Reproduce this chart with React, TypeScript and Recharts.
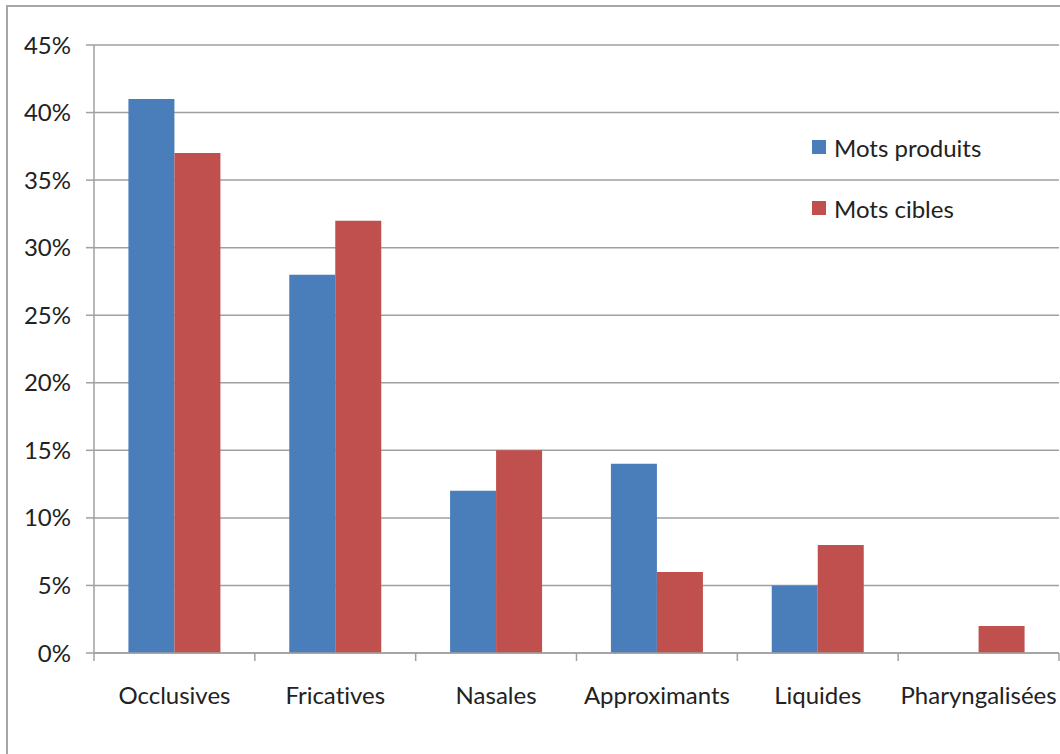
import { BarChart, Bar, XAxis, YAxis, CartesianGrid } from 'recharts';

const categories = ['Occlusives', 'Fricatives', 'Nasales', 'Approximants', 'Liquides', 'Pharyngalisées'];
const motsProduits = [41, 28, 12, 14, 5, 0];
const motsCibles = [37, 32, 15, 6, 8, 2];
const yTicks = [0, 5, 10, 15, 20, 25, 30, 35, 40, 45];

const series = [
  { key: 'produits', label: 'Mots produits', color: '#4a7ebb' },
  { key: 'cibles', label: 'Mots cibles', color: '#c0504d' },
];

const data = categories.map((name, i) => ({
  name,
  produits: motsProduits[i],
  cibles: motsCibles[i],
}));

const FONT = 'Lato, sans-serif';
const GRID = '#a0a0a0';

// x ticks: Excel draws them at category boundaries, label centred
function CategoryTick(props: any) {
  const { x, y, payload, index, width } = props;
  const bw = width / categories.length;
  const left = x - bw / 2;
  return (
    <g>
      <line x1={left} y1={y} x2={left} y2={y + 8} stroke={GRID} strokeWidth={1.5} />
      {index === categories.length - 1 && (
        <line x1={x + bw / 2} y1={y} x2={x + bw / 2} y2={y + 8} stroke={GRID} strokeWidth={1.5} />
      )}
      <text
        x={x}
        y={y + 41}
        textAnchor="middle"
        dominantBaseline="central"
        fill="#222"
        fontSize={24}
        fontFamily={FONT}
        style={{ fontVariantLigatures: 'none' }}
      >
        {payload.value}
      </text>
    </g>
  );
}

export default function App() {
  return (
    <div style={{ position: 'absolute', left: 0, top: 0, width: 1060, height: 754, overflow: 'hidden', background: '#fff' }}>
      <div
        style={{
          position: 'absolute',
          left: 6,
          top: 5,
          width: 1200,
          height: 900,
          borderLeft: '2px solid #a6a6a6',
          borderTop: '2px solid #a6a6a6',
        }}
      />
      <div style={{ position: 'absolute', left: 0, top: 0 }}>
        <BarChart
          width={1060}
          height={754}
          data={data}
          margin={{ top: 45, right: 1, left: 0, bottom: 0 }}
          barCategoryGap="21.4%"
          barGap={0}
        >
          <CartesianGrid vertical={false} stroke={GRID} strokeWidth={1.5} />
          <YAxis
            width={94}
            domain={[0, 45]}
            ticks={yTicks}
            interval={0}
            tickFormatter={(v: number) => `${v}%`}
            tickSize={8}
            tickMargin={15}
            tickLine={{ stroke: GRID, strokeWidth: 1.5 }}
            axisLine={{ stroke: GRID, strokeWidth: 1.5 }}
            tick={{ fill: '#222', fontSize: 24, fontFamily: FONT }}
          />
          <XAxis
            dataKey="name"
            interval={0}
            tickSize={0}
            tickMargin={0}
            tickLine={false}
            axisLine={{ stroke: GRID, strokeWidth: 1.5 }}
            tick={<CategoryTick />}
            height={101}
          />
          {series.map((s) => (
            <Bar key={s.key} dataKey={s.key} name={s.label} fill={s.color} isAnimationActive={false} />
          ))}
        </BarChart>
      </div>
      <div style={{ position: 'absolute', left: 812, top: 132, fontFamily: FONT, fontSize: 24, color: '#222' }}>
        {series.map((s) => (
          <div key={s.key} style={{ display: 'flex', alignItems: 'center', height: 30, marginBottom: 31 }}>
            <span style={{ width: 14, height: 14, background: s.color, marginRight: 8, display: 'inline-block' }} />
            <span>{s.label}</span>
          </div>
        ))}
      </div>
    </div>
  );
}
